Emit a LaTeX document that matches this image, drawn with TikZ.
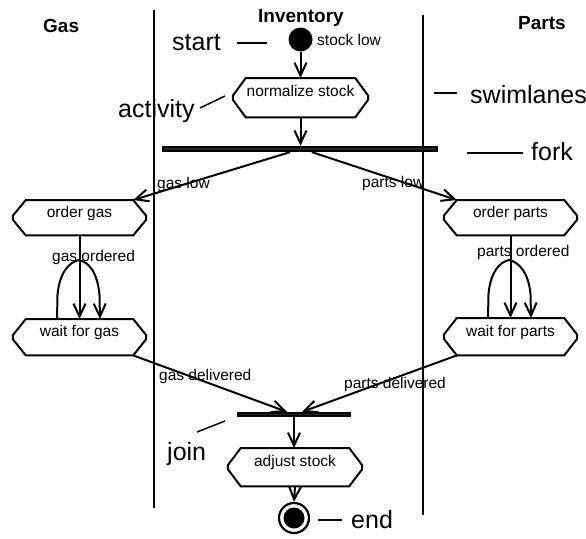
\documentclass[tikz,border=0pt]{standalone}
\usepackage{fontspec}
\setmainfont{Liberation Sans}
\usetikzlibrary{arrows.meta,calc}
\newcommand{\actoutline}[1]{%
  \draw[boxline] ($(#1.north west)+(13,0)$) -- ($(#1.north east)+(-13,0)$) -- ($(#1.east)+(0,-2)$) -- ($(#1.east)+(0,2)$) -- ($(#1.south east)+(-13,0)$) -- ($(#1.south west)+(13,0)$) -- ($(#1.west)+(0,2)$) -- ($(#1.west)+(0,-2)$) -- cycle;}
\tikzset{
  small/.style={font=\fontsize{15.5}{18}\selectfont, inner sep=0pt},
  head/.style={font=\bfseries\fontsize{19}{22}\selectfont, inner sep=0pt, anchor=base west},
  big/.style={font=\fontsize{25}{30}\selectfont, inner sep=0pt, anchor=base west},
  lbl/.style={small, anchor=base west},
  actv/.style={small, inner xsep=0pt, inner ysep=0pt, anchor=north},
  boxline/.style={line width=2pt, line join=miter},
  arr/.style={line width=2pt, -{Straight Barb[length=13pt,width=12pt]}},
  lane/.style={line width=2pt},
  bar/.style={fill=black!85, draw=black, line width=1.8pt, inner sep=0pt},
  leader/.style={line width=1.5pt},
}
\begin{document}
\begin{tikzpicture}[x=1pt,y=-1pt]
\useasboundingbox (0,0) rectangle (586,538);
% swimlanes
\coordinate (l1t) at (154,10); \coordinate (l1b) at (154,508);
\coordinate (l2t) at (423,15); \coordinate (l2b) at (423,515);
\draw[lane] (l1t) -- (l1b);
\draw[lane] (l2t) -- (l2b);
% headers
\node[head] (hgas) at (43,32) {Gas};
\node[head] (hinv) at (258,23) {Inventory};
\node[head] (hpar) at (518,29.3) {Parts};
% activities
\node[actv, text height=18pt, text depth=21pt, minimum width=135pt] (ns) at (300.5,78) {normalize stock};
\node[actv, text height=17pt, text depth=18pt, minimum width=133pt] (og) at (79.5,200) {order gas};
\node[actv, text height=17pt, text depth=19pt, minimum width=133pt] (wg) at (79.5,319) {wait for gas};
\node[actv, text height=17pt, text depth=18pt, minimum width=133pt] (op) at (510.5,200) {order parts};
\node[actv, text height=18pt, text depth=19pt, minimum width=133pt] (wp) at (510.5,318) {wait for parts};
\node[actv, text height=18pt, text depth=20pt, minimum width=134pt] (as) at (295,448) {adjust stock};
\actoutline{ns}\actoutline{og}\actoutline{wg}\actoutline{op}\actoutline{wp}\actoutline{as}
% start / end
\node[circle, fill=black, minimum size=24pt, inner sep=0pt] (st) at (300.5,39.5) {};
\node[circle, draw, line width=2.2pt, minimum size=30pt, inner sep=0pt] (en) at (294,518) {};
\node[circle, fill=black, minimum size=21pt, inner sep=0pt] (enin) at (294,518) {};
% bars
\node[bar, minimum width=274pt, minimum height=4.5pt] (fork) at (300,149) {};
\node[bar, minimum width=112pt, minimum height=3.5pt] (join) at (294,414.5) {};
% connectors
\draw[arr] (st.south) -- (ns.north);
\draw[arr] (ns.south) -- (ns.south |- fork.north);
\draw[arr] ($(fork.south)+(-10,0)$) -- ($(og.north east)+(-13,0)$);
\draw[arr] ($(fork.south)+(12,0)$) -- ($(op.north west)+(13,0)$);
\draw[arr] (og.south) -- (wg.north);
\draw[arr] ($(wg.north)+(-22.5,0)$) -- ($(wg.north)+(-22,-24)$) .. controls ($(wg.north)+(-20,-47)$) and ($(wg.north)+(-10,-57)$) .. ($(wg.north)+(-0.5,-59)$) .. controls ($(wg.north)+(9,-57)$) and ($(wg.north)+(18,-47)$) .. ($(wg.north)+(20,-24)$) -- ($(wg.north)+(20.5,0)$);
\draw[arr] (op.south) -- (wp.north);
\draw[arr] ($(wp.north)+(-22.5,0)$) -- ($(wp.north)+(-22,-24)$) .. controls ($(wp.north)+(-20,-46)$) and ($(wp.north)+(-11,-56)$) .. ($(wp.north)+(-1.5,-58)$) .. controls ($(wp.north)+(8,-56)$) and ($(wp.north)+(18,-46)$) .. ($(wp.north)+(20,-24)$) -- ($(wp.north)+(20.5,0)$);
\draw[arr] ($(wg.south east)+(-13,0)$) -- ($(join.north)+(-7,0)$);
\draw[arr] ($(wp.south west)+(13,0)$) -- ($(join.north)+(8,0)$);
\draw[arr] (join.south) -- (join.south |- as.north);
\draw[arr] (as.south) -- (en.north);
% connector labels
\node[lbl] (tsl) at (317,45) {stock low};
\node[lbl] (tgl) at (157,188) {gas low};
\node[lbl] (tpl) at (362,187) {parts low};
\node[lbl] (tgo) at (52,261) {gas ordered};
\node[lbl] (tpo) at (477,256) {parts ordered};
\node[lbl] (tgd) at (159,380) {gas delivered};
\node[lbl] (tpd) at (344,388) {parts delivered};
% annotations
\node[big] (astart) at (172,50) {start};
\node[big] (aact) at (118,117) {activity};
\node[big] (aswim) at (470,103) {swimlanes};
\node[big] (afork) at (531,160) {fork};
\node[big] (ajoin) at (167,460) {join};
\node[big] (aend) at (351,528) {end};
\draw[leader] (237,43) -- (267,43);
\draw[leader] (200,108) -- (225,96);
\draw[leader] (434,93) -- (457,93);
\draw[leader] (467,153) -- (523,153);
\draw[leader] (197,432) -- (225,421);
\draw[leader] (318,520) -- (342,520);
\end{tikzpicture}
\end{document}
